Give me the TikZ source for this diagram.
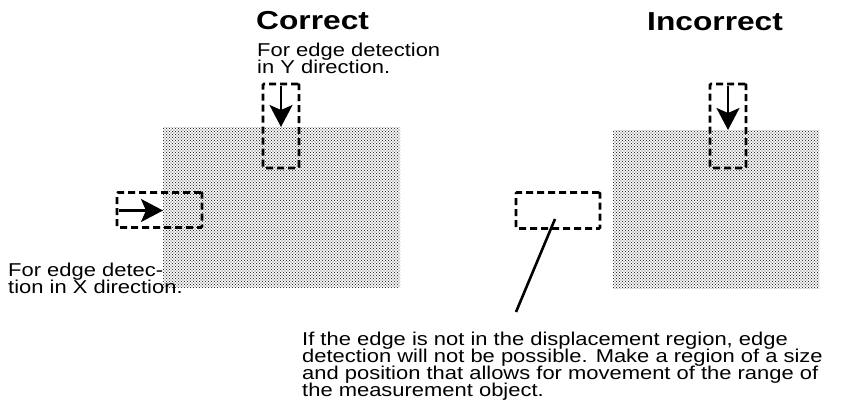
\documentclass[tikz,border=0pt]{standalone}
\usepackage{fontspec}
\setmainfont{Liberation Sans}
\usetikzlibrary{patterns,arrows.meta}
\pgfdeclarepatternformonly{halftone}{\pgfqpoint{-1pt}{-1pt}}{\pgfqpoint{4pt}{4pt}}{\pgfqpoint{3pt}{3pt}}{%
  \pgfpathcircle{\pgfqpoint{0pt}{0pt}}{0.62pt}%
  \pgfpathcircle{\pgfqpoint{1.5pt}{1.5pt}}{0.62pt}%
  \pgfusepath{fill}}
\newcommand{\hx}[1]{\scalebox{1.18}[1]{#1}}
\newcommand{\hxt}[1]{\scalebox{1.22}[1]{#1}}
\lineskiplimit=-30pt\relax
\begin{document}
\begin{tikzpicture}[x=1pt,y=-1pt,
  objarea/.style={pattern=halftone, pattern color=black!80, inner sep=0pt, anchor=north west},
  region/.style={draw, line width=2.8pt, dash pattern=on 7pt off 4pt, rounded corners=1pt, inner sep=0pt},
  detarrow/.style={line width=2.2pt, -{Stealth[length=22pt,width=23pt,inset=5pt]}},
  body/.style={font=\fontsize{18.6}{17}\selectfont, align=left, inner sep=0pt, anchor=base west},
  titletext/.style={font=\bfseries\fontsize{26}{26}\selectfont, inner sep=0pt, anchor=base west},
]
\useasboundingbox (0,0) rectangle (846,415);

% titles
\node[titletext] (tC) at (256,29) {\hxt{Correct}};
\node[titletext] (tI) at (647,30) {\hxt{Incorrect}};

% measurement objects
\node[objarea, minimum width=237pt, minimum height=160pt] (objL) at (163,127) {};
\node[objarea, minimum width=206pt, minimum height=158pt] (objR) at (613,130) {};

% regions (correct)
\node[region, minimum width=36pt, minimum height=84pt] (yC) at (281,126) {};
\node[region, minimum width=85pt, minimum height=35pt] (xC) at (159.5,210) {};
% regions (incorrect)
\node[region, minimum width=36pt, minimum height=84pt] (yI) at (728,126) {};
\node[region, minimum width=84pt, minimum height=36pt] (xI) at (558,210.5) {};

% detection arrows
\coordinate (yCs) at (281,86);
\draw[detarrow] (yCs) -- (yCs |- objL.north);
\coordinate (xCs) at (119,210.5);
\draw[detarrow] (xCs) -- (xCs -| objL.west);
\coordinate (yIs) at (728,86);
\draw[detarrow] (yIs) -- (yIs |- objR.north);

% labels (anchor = baseline of the last line)
\node[body] (lY) at (257,73.5) {\hx{For edge detection}\\\hx{in Y direction.}};
\node[body] (lX) at (8,293) {\hx{For edge detec-}\\\hx{tion in X direction.}};
\node[body] (note) at (302,396.7) {\hx{If the edge is not in the displacement region, edge}\\
\hx{detection will not be possible. Make a region of a size}\\
\hx{and position that allows for movement of the range of}\\
\hx{the measurement object.}};

% leader line
\coordinate (lA) at (555,219);
\coordinate (lB) at (516,312);
\draw[line width=2.6pt] (lA) -- (lB);
\end{tikzpicture}
\end{document}
